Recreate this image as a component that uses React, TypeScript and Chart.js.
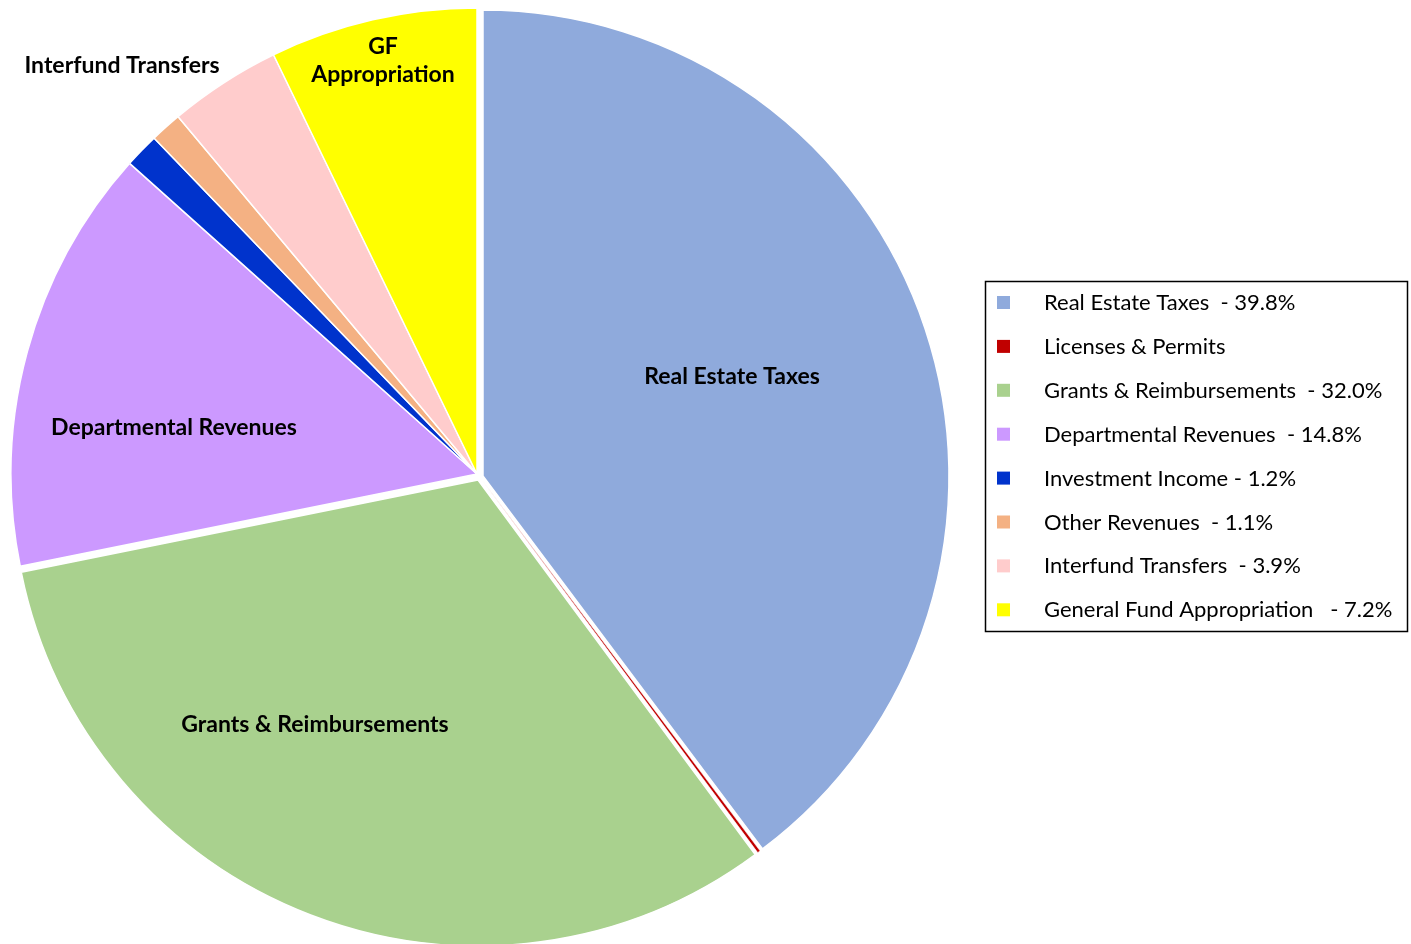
import React, { useEffect, useRef } from 'react';
import { Chart, registerables } from 'chart.js';

Chart.register(...registerables);

const categories = [
  'Real Estate Taxes',
  'Licenses & Permits',
  'Grants & Reimbursements',
  'Departmental Revenues',
  'Investment Income',
  'Other Revenues',
  'Interfund Transfers',
  'General Fund Appropriation',
];
const shares = [39.8, 0.1, 32.0, 14.8, 1.2, 1.1, 3.9, 7.2];
const legendLabels = [
  'Real Estate Taxes  - 39.8%',
  'Licenses & Permits',
  'Grants & Reimbursements  - 32.0%',
  'Departmental Revenues  - 14.8%',
  'Investment Income - 1.2%',
  'Other Revenues  - 1.1%',
  'Interfund Transfers  - 3.9%',
  'General Fund Appropriation   - 7.2%',
];
const colors = ['#8FAADC', '#C00000', '#A9D18E', '#CC99FF', '#0033CC', '#F4B183', '#FFCCCC', '#FFFF00'];
// exploded slices (pixel shift of each slice)
const explodeX = [6, 3.5, 1, 0, 0, 0, 0, 0];
const explodeY = [2, 4, 6, 0, 0, 0, 0, 0];
const sliceBorders = [1.5, 0.6, 1.5, 1.5, 1.5, 1.5, 1.5, 1.5];
const sliceLabels = [
  { lines: ['Real Estate Taxes'], x: 732, y: 377 },
  { lines: ['Grants & Reimbursements'], x: 315, y: 725 },
  { lines: ['Departmental Revenues'], x: 174, y: 428 },
  { lines: ['Interfund Transfers'], x: 122, y: 66 },
  { lines: ['GF', 'Appropriation'], x: 383, y: 47 },
];

const FONT = 'Lato, "Open Sans", sans-serif';

const explodePlugin = {
  id: 'explode',
  afterDatasetsUpdate(chart: any) {
    const meta = chart.getDatasetMeta(0);
    meta.data.forEach((el: any, i: number) => {
      el.x += explodeX[i] || 0;
      el.y += explodeY[i] || 0;
    });
  },
};

const overlayPlugin = {
  id: 'overlay',
  afterDraw(chart: any) {
    const ctx = chart.ctx as CanvasRenderingContext2D;
    ctx.save();
    ctx.fillStyle = '#000';
    ctx.font = `bold 23px ${FONT}`;
    ctx.textAlign = 'center';
    ctx.textBaseline = 'middle';
    sliceLabels.forEach((l) => {
      l.lines.forEach((t, i) => ctx.fillText(t, l.x, l.y + i * 28));
    });
    const bx = 985.5, by = 281.5, bw = 422, bh = 350;
    ctx.strokeStyle = '#000';
    ctx.lineWidth = 1.5;
    ctx.strokeRect(bx, by, bw, bh);
    ctx.font = `22px ${FONT}`;
    ctx.textAlign = 'left';
    const rowStart = 302;
    const rowGap = 43.9;
    legendLabels.forEach((t, i) => {
      const y = rowStart + i * rowGap;
      ctx.fillStyle = colors[i];
      ctx.fillRect(997, y - 6, 13, 13);
      ctx.fillStyle = '#000';
      ctx.fillText(t, 1044, y + 1);
    });
    ctx.restore();
  },
};

export default function App() {
  const ref = useRef<HTMLCanvasElement | null>(null);
  useEffect(() => {
    if (!ref.current) return;
    const chart = new Chart(ref.current, {
      type: 'pie',
      data: {
        labels: categories,
        datasets: [
          {
            data: shares,
            backgroundColor: colors,
            borderColor: '#ffffff',
            borderWidth: sliceBorders,
          },
        ],
      },
      options: {
        animation: false,
        responsive: false,
        maintainAspectRatio: false,
        radius: 466,
        layout: { padding: { left: 0, right: 457, top: 4, bottom: 0 } },
        plugins: { legend: { display: false }, tooltip: { enabled: false } },
      } as any,
      plugins: [explodePlugin, overlayPlugin],
    });
    return () => chart.destroy();
  }, []);
  return (
    <div style={{ position: 'fixed', left: 0, top: 0, width: 1411, height: 944, background: '#fff' }}>
      <canvas ref={ref} width={1411} height={944} style={{ width: 1411, height: 944 }} />
    </div>
  );
}
